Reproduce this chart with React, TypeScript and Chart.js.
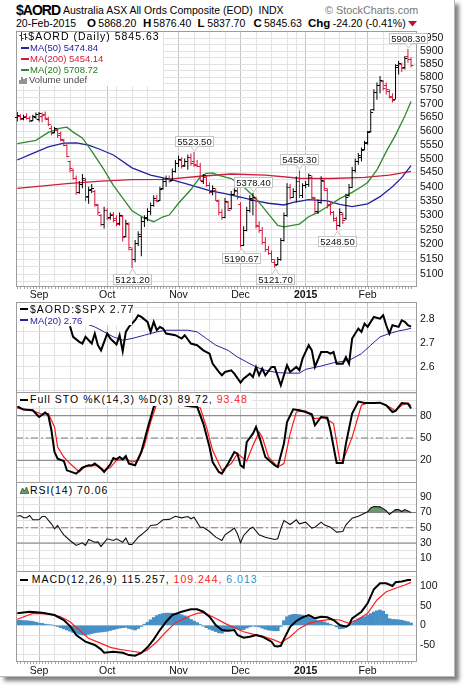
import React, { useEffect, useRef } from 'react';
import { Chart, registerables } from 'chart.js';

Chart.register(...registerables);

// ---------------- categories / tick labels ----------------
const monthIdx = [7, 29, 52, 72, 93, 113];
const monthLabels = ['Sep', 'Oct', 'Nov', 'Dec', '2015', 'Feb'];
const weekIdx = [2, 12, 17, 22, 32, 37, 42, 47, 57, 62, 67, 77, 82, 87, 90, 99, 104, 109, 118, 123];

const priceLabels = [5100, 5150, 5200, 5250, 5300, 5350, 5400, 5450, 5500, 5550, 5600, 5650, 5700, 5750, 5800, 5850, 5900, 5950];
const ratioLabels = [2.6, 2.7, 2.8];
const stoLabels = [20, 50, 80];
const rsiLabels = [10, 30, 50, 70, 90];
const macdLabels = [-50, 0, 50, 100];

// ---------------- price bars (daily OHLC) ----------------
const opens = [
  5650, 5655, 5648, 5655, 5646, 5640, 5650, 5645, 5655, 5662,
  5645, 5612, 5595, 5605, 5592, 5568, 5548, 5490, 5460, 5430,
  5380, 5410, 5425, 5368, 5392, 5385, 5335, 5300, 5270, 5318,
  5295, 5305, 5290, 5275, 5298, 5230, 5270, 5185, 5150, 5205,
  5230, 5280, 5295, 5315, 5335, 5355, 5355, 5395, 5420, 5428,
  5425, 5455, 5485, 5495, 5478, 5490, 5505, 5490, 5478, 5475,
  5420, 5435, 5405, 5385, 5390, 5350, 5310, 5295, 5345, 5325,
  5375, 5385, 5340, 5200, 5250, 5320, 5355, 5360, 5262, 5250,
  5210, 5185, 5170, 5140, 5135, 5150, 5215, 5300, 5400, 5365,
  5385, 5420, 5370, 5405, 5410, 5435, 5360, 5315, 5345, 5420,
  5390, 5340, 5310, 5285, 5265, 5305, 5290, 5370, 5400, 5460,
  5490, 5505, 5535, 5560, 5600, 5680, 5745, 5770, 5785, 5770,
  5750, 5725, 5720, 5845, 5850, 5840, 5880, 5868.2,
];
const highs = [
  5670, 5662, 5660, 5665, 5655, 5660, 5668, 5670, 5668, 5672,
  5652, 5620, 5615, 5612, 5598, 5572, 5552, 5492, 5465, 5440,
  5420, 5445, 5430, 5400, 5410, 5388, 5340, 5305, 5330, 5325,
  5310, 5312, 5300, 5310, 5302, 5285, 5275, 5190, 5215, 5245,
  5295, 5300, 5325, 5345, 5370, 5372, 5400, 5430, 5440, 5440,
  5465, 5495, 5510, 5505, 5500, 5515, 5518, 5523.5, 5495, 5485,
  5445, 5440, 5415, 5405, 5395, 5355, 5320, 5360, 5350, 5385,
  5395, 5400, 5345, 5262, 5330, 5370, 5378.4, 5365, 5280, 5260,
  5225, 5195, 5180, 5150, 5158, 5222, 5310, 5412, 5410, 5395,
  5436, 5458.3, 5412, 5420, 5447, 5440, 5365, 5355, 5437, 5430,
  5395, 5350, 5315, 5295, 5325, 5310, 5375, 5410, 5470, 5500,
  5520, 5540, 5565, 5600, 5680, 5755, 5780, 5805, 5790, 5780,
  5755, 5740, 5850, 5862, 5855, 5881, 5908.3, 5876.4,
];
const lows = [
  5635, 5640, 5640, 5642, 5632, 5636, 5645, 5635, 5632, 5640,
  5618, 5585, 5592, 5575, 5562, 5545, 5505, 5450, 5425, 5372,
  5375, 5395, 5350, 5340, 5378, 5330, 5300, 5262, 5255, 5285,
  5285, 5275, 5262, 5265, 5210, 5225, 5180, 5121.2, 5140, 5195,
  5160, 5260, 5280, 5300, 5330, 5345, 5350, 5390, 5400, 5415,
  5420, 5450, 5470, 5465, 5470, 5460, 5475, 5470, 5470, 5420,
  5410, 5400, 5375, 5370, 5350, 5300, 5285, 5290, 5315, 5320,
  5370, 5355, 5190.67, 5195, 5245, 5310, 5300, 5255, 5240, 5200,
  5175, 5165, 5140, 5121.7, 5130, 5145, 5210, 5295, 5355, 5360,
  5345, 5360, 5360, 5395, 5400, 5355, 5305, 5305, 5340, 5385,
  5325, 5300, 5279, 5248.5, 5260, 5270, 5285, 5365, 5395, 5450,
  5478, 5490, 5530, 5550, 5595, 5675, 5716, 5740, 5750, 5735,
  5720, 5705, 5718, 5811, 5820, 5830, 5855, 5837.7,
];
const closes = [
  5660, 5645, 5652, 5648, 5638, 5655, 5662, 5666, 5660, 5648,
  5625, 5592, 5610, 5585, 5570, 5550, 5510, 5465, 5432, 5380,
  5410, 5430, 5365, 5390, 5395, 5340, 5310, 5270, 5320, 5290,
  5300, 5285, 5270, 5300, 5225, 5275, 5190, 5150, 5205, 5235,
  5280, 5290, 5315, 5335, 5360, 5350, 5392, 5420, 5430, 5420,
  5455, 5485, 5500, 5475, 5492, 5505, 5485, 5480, 5475, 5425,
  5440, 5405, 5380, 5395, 5355, 5310, 5295, 5350, 5320, 5375,
  5390, 5365, 5200, 5250, 5320, 5360, 5365, 5265, 5250, 5210,
  5185, 5170, 5150, 5130, 5150, 5215, 5300, 5400, 5365, 5385,
  5420, 5370, 5405, 5410, 5440, 5365, 5315, 5345, 5425, 5395,
  5335, 5310, 5290, 5265, 5310, 5285, 5365, 5400, 5460, 5490,
  5512, 5530, 5558, 5595, 5670, 5745, 5770, 5790, 5760, 5755,
  5730, 5715, 5840, 5855, 5835, 5875, 5869.83, 5845.63,
];

// moving averages (bar index -> value)
const ma50X = [0, 5, 10, 15, 19, 23, 27, 31, 37, 43, 50, 56, 62, 67, 73, 77, 81, 86, 89, 94, 100, 104, 108, 113, 117, 121, 124, 127];
const ma50Y = [5495, 5519, 5542, 5556, 5557, 5549, 5532, 5513, 5467, 5441, 5424, 5406, 5386, 5376, 5361, 5350, 5342, 5336, 5345, 5355, 5350, 5338, 5330, 5340, 5365, 5400, 5432, 5474.84];
const ma200X = [0, 16, 27, 37, 48, 59, 69, 80, 91, 101, 112, 120, 127];
const ma200Y = [5394, 5411, 5420, 5425, 5426, 5437, 5445, 5441, 5430, 5429, 5433, 5441, 5454.14];
const ma20X = [0, 6, 10, 14, 16, 18, 21, 24, 28, 31, 34, 37, 41, 44, 47, 49, 52, 56, 59, 61, 63, 65, 69, 73, 77, 81, 84, 86, 91, 94, 97, 100, 104, 108, 111, 113, 116, 119, 122, 125, 127];
const ma20Y = [5554, 5566, 5595, 5611, 5614, 5596, 5575, 5527, 5460, 5405, 5360, 5316, 5290, 5278, 5295, 5301, 5342, 5390, 5435, 5447, 5449, 5440, 5429, 5400, 5358, 5305, 5265, 5260, 5270, 5295, 5310, 5330, 5358, 5380, 5400, 5415, 5460, 5525, 5585, 5655, 5708.72];

// price callouts
const calloutIdx = [126, 57, 37, 76, 72, 83, 91, 103];
const calloutVal = [5908.3, 5523.5, 5121.2, 5378.4, 5190.67, 5121.7, 5458.3, 5248.5];
const calloutText = ['5908.30', '5523.50', '5121.20', '5378.40', '5190.67', '5121.70', '5458.30', '5248.50'];
const calloutAbove = [true, true, false, true, false, false, true, false];

// $AORD:$SPX ratio and its MA(20)
const ratioX = [17, 18, 20, 21, 22, 24, 25, 26, 27, 29, 30, 32, 33, 34, 35, 36, 38, 39, 40, 42, 43, 44, 45, 46, 47, 48, 51, 53, 54, 56, 58, 60, 62, 63, 65, 66, 67, 69, 70, 72, 73, 75, 76, 77, 78, 79, 80, 82, 83, 85, 87, 88, 90, 91, 92, 94, 95, 96, 98, 100, 101, 102, 103, 105, 106, 107, 108, 110, 111, 112, 113, 115, 117, 118, 119, 120, 121, 123, 124, 125, 126, 127];
const ratioY = [2.772, 2.727, 2.706, 2.699, 2.727, 2.699, 2.741, 2.692, 2.67, 2.741, 2.72, 2.695, 2.734, 2.666, 2.748, 2.769, 2.797, 2.818, 2.811, 2.79, 2.748, 2.79, 2.755, 2.769, 2.762, 2.741, 2.734, 2.72, 2.734, 2.699, 2.692, 2.67, 2.656, 2.614, 2.579, 2.565, 2.579, 2.586, 2.572, 2.534, 2.551, 2.572, 2.558, 2.6, 2.565, 2.593, 2.565, 2.6, 2.6, 2.523, 2.607, 2.579, 2.6, 2.586, 2.635, 2.692, 2.67, 2.6, 2.663, 2.663, 2.656, 2.663, 2.614, 2.614, 2.642, 2.614, 2.72, 2.762, 2.748, 2.783, 2.769, 2.811, 2.804, 2.818, 2.776, 2.741, 2.776, 2.769, 2.797, 2.79, 2.776, 2.77];
const rmaX = [22, 25, 28, 31, 34, 37, 41, 45, 48, 55, 58, 61, 64, 68, 71, 74, 77, 80, 84, 88, 91, 93, 98, 102, 107, 111, 114, 117, 120, 123, 125, 127];
const rmaY = [2.783, 2.769, 2.748, 2.727, 2.713, 2.72, 2.734, 2.748, 2.755, 2.755, 2.748, 2.72, 2.692, 2.67, 2.642, 2.621, 2.6, 2.586, 2.576, 2.574, 2.574, 2.59, 2.604, 2.618, 2.628, 2.656, 2.692, 2.727, 2.741, 2.752, 2.757, 2.763];

// Full stochastics
const stoKX = [0, 2, 5, 7, 9, 10, 11, 12, 13, 15, 16, 19, 21, 23, 24, 25, 27, 28, 30, 31, 32, 33, 34, 35, 36, 38, 40, 42, 44, 45, 47, 50, 52, 54, 56, 58, 60, 62, 63, 65, 66, 68, 70, 71, 72, 73, 74, 76, 77, 78, 80, 83, 84, 86, 87, 89, 91, 93, 95, 96, 98, 100, 101, 103, 105, 106, 108, 110, 112, 115, 117, 119, 121, 122, 124, 126, 127];
const stoKY = [92.6, 88.2, 87.3, 78.3, 84.2, 80.5, 60.4, 31.2, 22.3, 19.1, 6.5, 2.1, 10.2, 13.3, 12.9, 15.6, 8.8, 4.3, 14.6, 23.1, 21.3, 24.4, 21.3, 25.8, 15.6, 13.3, 31.2, 62.6, 91.7, 98, 99, 97, 96, 94, 92.6, 92, 69.4, 37.9, 17.7, 4.3, 2.1, 15.6, 31.2, 29, 13.3, 10.2, 44.6, 55.9, 64.8, 52.6, 24.4, 13.3, 11.1, 42.5, 71.5, 88.6, 87.3, 85, 81.9, 67.1, 78.3, 77.4, 60.4, 16.4, 16.4, 42.5, 82.8, 99, 97.1, 97.1, 97.5, 94, 85, 86.4, 97.1, 96.2, 89.72];
const stoDX = [0, 5, 8, 10, 12, 13, 15, 17, 20, 22, 26, 28, 30, 32, 35, 37, 39, 41, 43, 45, 48, 51, 55, 59, 61, 63, 66, 69, 71, 74, 76, 78, 79, 81, 84, 86, 88, 90, 93, 96, 99, 102, 104, 105, 108, 111, 113, 117, 120, 122, 124, 126, 127];
const stoDY = [90.2, 86.4, 82, 83, 64.8, 37.9, 24.4, 15.6, 4.3, 12, 13.3, 6.5, 10.2, 20, 22.2, 17.7, 20, 40, 71.5, 96, 98, 97, 92.6, 90.7, 64.8, 33.5, 6.5, 15.6, 29, 19, 40, 57.9, 51.2, 24.4, 11, 15.6, 55.9, 85, 86.4, 76, 77.4, 69.4, 20, 19.1, 51.2, 94, 97.1, 97.1, 92, 86.4, 94, 97.1, 93.48];

// RSI(14)
const rsiX = [0, 1, 2, 3, 4, 5, 7, 8, 9, 11, 12, 13, 14, 15, 17, 19, 21, 22, 23, 25, 26, 27, 29, 31, 32, 34, 35, 36, 37, 39, 40, 42, 43, 45, 47, 49, 51, 53, 55, 56, 57, 59, 60, 62, 64, 66, 67, 69, 70, 71, 72, 73, 75, 76, 78, 80, 83, 84, 85, 86, 88, 90, 91, 93, 95, 96, 98, 99, 101, 103, 105, 106, 108, 110, 113, 114, 115, 117, 119, 120, 122, 123, 124, 125, 126, 127];
const rsiY = [65.2, 66.1, 63.1, 63.1, 66.1, 60.5, 60.5, 64.8, 64.8, 55.2, 48.7, 53, 46.5, 40.8, 33.3, 26.8, 30.3, 26.8, 34.7, 31.1, 31.5, 25.5, 35.6, 33.3, 35.6, 31.1, 36.4, 28.1, 28.1, 37.7, 40.8, 47.8, 53, 53.9, 60.5, 61, 65.2, 63.1, 64.8, 61.8, 63.9, 50.8, 50.8, 45.1, 37.7, 33.3, 40.8, 46.5, 49.6, 42.1, 30.3, 39.9, 48.7, 50.8, 40.8, 37.7, 34.7, 35.6, 48.7, 59.6, 54.3, 60.5, 55.2, 57.4, 49.6, 50.8, 57.4, 53.9, 50.8, 44.3, 45.1, 53.9, 62.6, 65.2, 71, 76, 78, 77.5, 72.6, 67.4, 73.9, 73.9, 71.3, 73.9, 72.2, 70.06];

// MACD(12,26,9)
const macdX = [0, 4, 8, 12, 15, 17, 19, 22, 25, 27, 28, 31, 34, 36, 38, 40, 42, 44, 46, 48, 50, 53, 56, 58, 60, 62, 64, 66, 68, 70, 71, 73, 75, 77, 79, 82, 83, 84, 85, 86, 88, 90, 92, 94, 96, 98, 100, 102, 104, 106, 107, 108, 111, 113, 115, 117, 119, 121, 122, 124, 126, 127];
const macdY = [30.5, 34.6, 32, 26.2, 13.5, -1.8, -24.7, -41.7, -50, -61, -69.6, -67, -69.6, -75.6, -77.3, -70.3, -56, -35.6, -12, 9.2, 26.2, 34.6, 40.7, 40.7, 34.6, 21.9, 0.8, -12, -13.5, -12, -24.7, -31.5, -29, -24.7, -29, -41.7, -52.7, -54, -52, -35, -4, 11, 20.3, 26.2, 17.8, 21.9, 20.3, 13.5, 0.8, -3.6, 0.8, 17.8, 34.6, 56, 91.6, 106.9, 106.9, 100, 109.4, 111.2, 115.3, 115.257];
const sigX = [0, 5, 10, 14, 17, 20, 23, 27, 30, 33, 36, 40, 42, 45, 48, 51, 55, 58, 60, 63, 67, 70, 73, 76, 79, 83, 85, 88, 91, 94, 98, 101, 104, 107, 110, 113, 116, 119, 122, 125, 127];
const sigY = [15.3, 30.5, 28.8, 21.9, 9.2, -12, -33.1, -45.8, -56, -61, -64.6, -69.6, -62.8, -41.7, -16.3, 6.7, 21.9, 30.5, 32, 21.9, 5, -6, -16.3, -22.2, -27.3, -37.5, -44.2, -29, -7.8, 5, 11.8, 15.3, 13.5, 5, 15.3, 30.5, 64.4, 85.5, 94.1, 102.5, 109.244];
const histY = [
  13, 13, 12, 12, 11, 10, 8, 6, 5, 3,
  2, 1, -1, -3, -6, -9, -12, -15, -18, -21,
  -23, -24, -25, -23, -21, -19, -18, -17, -16, -15,
  -13, -11, -9, -7, -6, -5, -8, -10, -12, -8,
  -3, 3, 8, 14, 20, 25, 28, 30, 31, 31,
  31, 30, 29, 27, 24, 20, 15, 11, 7, 2,
  -2, -6, -10, -13, -16, -19, -20, -16, -12, -9,
  -8, -9, -12, -11, -7, -4, -2, -3, -4, -7,
  -10, -12, -13, -14, -14, -3, 12, 22, 26, 28,
  28, 27, 26, 24, 22, 18, 14, 12, 11, 9,
  6, 3, 0, -4, -9, -8, -4, 1, 6, 12,
  17, 20, 22, 26, 30, 34, 37, 39, 36, 28,
  17, 15, 15, 14, 13, 11, 9, 6.013,
];

// ---------------- layout / style constants ----------------
const FONT = '"Liberation Sans", Arial, Helvetica, sans-serif';
const X_MIN = -0.42;
const X_MAX = 128.6;
const PLOT_L = 16;
const PLOT_W = 400;
const AXW = 40;
const GRID_MINOR = '#e2e2e2';
const GRID_MAJOR = '#c4c4c4';
const FRAME = '#9c9c9c';
const UP = '#000000';
const DOWN = '#d8143a';
const NAVY = '#2323a0';
const CRIMSON = '#d01c3c';
const GREEN = '#2f8a2f';

Chart.defaults.font.family = FONT;

const steps = (a: number, b: number, s: number) => {
  const r: number[] = [];
  for (let v = a; v <= b + 1e-9; v += s) r.push(Math.round(v * 1000) / 1000);
  return r;
};
const pts = (xs: number[], ys: number[]) => xs.map((x, k) => ({ x, y: ys[k] }));
const barColors = closes.map((c, k) => (k === 0 || c >= closes[k - 1] ? UP : DOWN));

function line(xs: number[], ys: number[], color: string, width: number, order: number, extra: any = {}) {
  return { type: 'line', data: pts(xs, ys), borderColor: color, borderWidth: width, pointRadius: 0, tension: 0, fill: false, order, ...extra };
}
function refLine(v: number, dash: number[] = []) {
  return line([X_MIN, X_MAX], [v, v], '#7a7a7a', 1, 20, { borderDash: dash });
}

function xScale(bottomArea: number, showMonths: boolean, labelPad: number) {
  return {
    type: 'linear', position: 'bottom', min: X_MIN, max: X_MAX, bounds: 'data', offset: false,
    afterBuildTicks: (s: any) => {
      const t = weekIdx.map((v) => ({ value: v, major: false })).concat(monthIdx.map((v) => ({ value: v, major: true })));
      t.sort((a, b) => a.value - b.value);
      s.ticks = t;
    },
    afterFit: (s: any) => { s.height = bottomArea; s.paddingLeft = 0; s.paddingRight = 0; s.paddingTop = 0; s.paddingBottom = 0; },
    grid: { offset: false, drawTicks: false, lineWidth: 1, color: (c: any) => (c.tick && c.tick.major ? GRID_MAJOR : GRID_MINOR) },
    border: { display: false },
    ticks: {
      display: showMonths, autoSkip: false, maxRotation: 0, minRotation: 0, padding: labelPad, color: '#111',
      font: (c: any) => {
        const k = c.tick ? monthIdx.indexOf(c.tick.value) : -1;
        return { family: FONT, size: 10.5, weight: k >= 0 && /^\d{4}$/.test(monthLabels[k]) ? 'bold' : 'normal' };
      },
      callback: (v: number) => { const k = monthIdx.indexOf(v); return k >= 0 ? monthLabels[k] : ''; },
    },
  };
}

function yScale(type: string, min: number, max: number, grid: number[], labels: number[], fmt: (v: number) => string) {
  return {
    type, position: 'right', min, max, bounds: 'data', beginAtZero: false,
    afterBuildTicks: (s: any) => { s.ticks = grid.map((v) => ({ value: v })); },
    afterFit: (s: any) => { s.width = AXW; s.paddingTop = 0; s.paddingBottom = 0; s.paddingLeft = 0; s.paddingRight = 0; },
    grid: { drawTicks: false, color: GRID_MINOR, lineWidth: 1 },
    border: { display: false },
    ticks: {
      autoSkip: false, padding: 4, color: '#111', font: { family: FONT, size: 10.5 },
      callback: (v: number) => (labels.some((l) => Math.abs(l - v) < 1e-6) ? fmt(v) : ''),
    },
  };
}

const framePlugin = (tickMarks: boolean) => ({
  id: 'frame',
  afterDatasetsDraw(chart: any) {
    const { ctx, chartArea: a } = chart;
    ctx.save();
    ctx.strokeStyle = FRAME;
    ctx.lineWidth = 1;
    ctx.strokeRect(a.left + 0.5, a.top + 0.5, a.right - a.left, a.bottom - a.top);
    if (tickMarks) {
      const xs = chart.scales.x;
      ctx.strokeStyle = '#a8a8a8';
      ctx.beginPath();
      closes.forEach((_c, k) => {
        const px = Math.round(xs.getPixelForValue(k)) + 0.5;
        ctx.moveTo(px, a.bottom + 1);
        ctx.lineTo(px, a.bottom + 3);
      });
      ctx.stroke();
    }
    ctx.restore();
  },
});

const ohlcTicks = {
  id: 'ohlcTicks',
  afterDatasetsDraw(chart: any) {
    const meta = chart.getDatasetMeta(0);
    const ys = chart.scales.y;
    const ctx = chart.ctx;
    ctx.save();
    ctx.lineWidth = 1;
    meta.data.forEach((el: any, k: number) => {
      const x = el.x;
      const yo = Math.round(ys.getPixelForValue(opens[k])) + 0.5;
      const yc = Math.round(ys.getPixelForValue(closes[k])) + 0.5;
      ctx.strokeStyle = barColors[k];
      ctx.beginPath();
      ctx.moveTo(x - 2.4, yo); ctx.lineTo(x, yo);
      ctx.moveTo(x, yc); ctx.lineTo(x + 2.4, yc);
      ctx.stroke();
    });
    ctx.restore();
  },
};

const callouts = {
  id: 'callouts',
  afterDraw(chart: any) {
    const { ctx } = chart;
    const xs = chart.scales.x, ys = chart.scales.y;
    ctx.save();
    ctx.font = `9.5px ${FONT}`;
    ctx.textAlign = 'center';
    ctx.textBaseline = 'middle';
    ctx.lineWidth = 1;
    calloutIdx.forEach((idx, k) => {
      const px = xs.getPixelForValue(idx);
      const py = ys.getPixelForValue(calloutVal[k]);
      const tw = ctx.measureText(calloutText[k]).width;
      const bw = Math.round(tw + 4);
      const bh = 10;
      const bx = Math.round(px - bw / 2) + 0.5;
      const above = calloutAbove[k];
      const by = above ? Math.round(py - 6 - bh) + 0.5 : Math.round(py + 6) + 0.5;
      const edge = above ? by + bh : by;
      const tip = above ? py - 1 : py + 1;
      ctx.fillStyle = '#fff';
      ctx.strokeStyle = '#c4c4c4';
      ctx.fillRect(bx, by, bw, bh);
      ctx.strokeRect(bx, by, bw, bh);
      const cx = Math.round(px) + 0.5;
      ctx.beginPath();
      ctx.moveTo(cx - 3.5, edge); ctx.lineTo(cx, tip); ctx.lineTo(cx + 3.5, edge);
      ctx.closePath();
      ctx.fill();
      ctx.beginPath();
      ctx.moveTo(cx - 3.5, edge); ctx.lineTo(cx, tip); ctx.lineTo(cx + 3.5, edge);
      ctx.stroke();
      ctx.fillStyle = '#111';
      ctx.fillText(calloutText[k], bx + bw / 2, by + bh / 2 + 0.5);
    });
    ctx.restore();
  },
};

function baseOptions(y: any, bottomArea: number, showMonths: boolean, labelPad: number) {
  return {
    responsive: false,
    maintainAspectRatio: false,
    animation: false,
    devicePixelRatio: 1,
    events: [],
    layout: { padding: { left: 1, top: 1, right: 0, bottom: 0 }, autoPadding: false },
    plugins: { legend: { display: false }, tooltip: { enabled: false }, title: { display: false } },
    scales: { x: xScale(bottomArea, showMonths, labelPad), y },
  };
}

// ---------------- panel builders ----------------
const buildMain = (ba: number, lp: number) => ({
  type: 'line',
  data: {
    datasets: [
      {
        type: 'bar', data: highs.map((h, k) => ({ x: k, y: [lows[k], h] })),
        backgroundColor: barColors, barThickness: 1, inflateAmount: 0, borderWidth: 0, order: 0,
      },
      line(ma20X, ma20Y, GREEN, 1.3, 1),
      line(ma50X, ma50Y, NAVY, 1.3, 2),
      line(ma200X, ma200Y, CRIMSON, 1.3, 3),
    ],
  },
  options: baseOptions(yScale('logarithmic', 5061, 5978, steps(5075, 5975, 25), priceLabels, (v) => String(v)), ba, true, lp),
  plugins: [framePlugin(true), ohlcTicks, callouts],
});

const buildRatio = (ba: number, lp: number) => ({
  type: 'line',
  data: { datasets: [line(ratioX, ratioY, '#000', 2, 0), line(rmaX, rmaY, NAVY, 1, 1)] },
  options: baseOptions(yScale('linear', 2.4945, 2.874, steps(2.5, 2.85, 0.05), ratioLabels, (v) => v.toFixed(1)), ba, false, lp),
  plugins: [framePlugin(false)],
});

const buildSto = (ba: number, lp: number) => ({
  type: 'line',
  data: {
    datasets: [
      line(stoKX, stoKY, '#000', 2, 0),
      line(stoDX, stoDY, '#ff1a1a', 1.2, 1),
      refLine(80), refLine(20), refLine(50, [7, 3, 2, 3]),
    ],
  },
  options: baseOptions(yScale('linear', -9.2, 111.9, steps(0, 110, 10), stoLabels, (v) => String(v)), ba, false, lp),
  plugins: [framePlugin(false)],
});

const buildRsi = (ba: number, lp: number) => ({
  type: 'line',
  data: {
    datasets: [
      line(rsiX, rsiY, '#111', 1.1, 0, { fill: { target: { value: 70 }, above: '#6b976b', below: 'rgba(0,0,0,0)' } }),
      refLine(70), refLine(30), refLine(50, [7, 3, 2, 3]),
    ],
  },
  options: baseOptions(yScale('linear', -6.7, 110.1, steps(0, 110, 10), rsiLabels, (v) => String(v)), ba, false, lp),
  plugins: [framePlugin(false)],
});

const buildMacd = (ba: number, lp: number) => ({
  type: 'line',
  data: {
    datasets: [
      line(macdX, macdY, '#000', 2, 0),
      line(sigX, sigY, '#ff2020', 1.2, 1),
      {
        type: 'bar', data: histY.map((v, k) => ({ x: k, y: v })),
        backgroundColor: '#4690c7', borderWidth: 0,
        barPercentage: 1, categoryPercentage: 1, inflateAmount: 0.3, order: 5,
      },
    ],
  },
  options: baseOptions(yScale('linear', -90.7, 138.1, steps(-75, 125, 25), macdLabels, (v) => String(v)), ba, true, lp),
  plugins: [framePlugin(true)],
});

function Panel({ top, bottom, bottomArea, labelPad, build }: any) {
  const ref = useRef<HTMLCanvasElement>(null);
  const w = PLOT_W + 1 + AXW;
  const h = bottom - top + 1 + bottomArea;
  useEffect(() => {
    const chart = new Chart(ref.current as HTMLCanvasElement, build(bottomArea, labelPad) as any);
    return () => chart.destroy();
  }, []);
  return (
    <canvas ref={ref} width={w} height={h}
      style={{ position: 'absolute', left: PLOT_L - 1, top: top - 1, width: w, height: h }} />
  );
}

// ---------------- text helpers ----------------
function T({ x, y, size = 10.5, ls = 0, color = '#000', bold = false, lh = 11, children }: any) {
  return (
    <span style={{
      position: 'absolute', left: x, top: y, fontSize: size, letterSpacing: ls, color,
      fontWeight: bold ? 'bold' : 'normal', lineHeight: `${lh}px`, whiteSpace: 'pre', fontFamily: FONT,
    }}>{children}</span>
  );
}
const Box = ({ x, y, w, h }: any) => (
  <div style={{ position: 'absolute', left: x, top: y, width: w, height: h, background: '#fff' }} />
);
const Dash = ({ x, y, color, th = 2 }: any) => (
  <div style={{ position: 'absolute', left: x, top: y - th / 2, width: 8, height: th, background: color }} />
);

export default function App() {
  return (
    <div style={{ position: 'absolute', left: 0, top: 0, width: 464, height: 685, background: '#fff', overflow: 'hidden' }}>
      <div style={{
        position: 'absolute', left: 0, top: 0, width: 454, height: 676, background: '#fff',
        borderRight: '1px solid #b8b8b8', borderBottom: '1px solid #b8b8b8', boxShadow: '4px 4px 4px rgba(0,0,0,0.5)',
      }} />

      {/* header */}
      <T x={16} y={3} size={14} bold ls={-1} lh={14}>$AORD</T>
      <T x={63} y={5}>{'Australia ASX All Ords Composite (EOD)  INDX'}</T>
      <T x={325} y={5} size={10.8} color="#777">{'\u00A9 StockCharts.com'}</T>
      <T x={16} y={18}>20-Feb-2015</T>
      <T x={87} y={17.5} size={11.5} bold>O</T>
      <T x={98.3} y={18}>5868.20</T>
      <T x={143} y={17.5} size={11.5} bold>H</T>
      <T x={153.3} y={18}>5876.40</T>
      <T x={197.5} y={17.5} size={11.5} bold>L</T>
      <T x={207.3} y={18}>5837.70</T>
      <T x={253.5} y={17.5} size={11.5} bold>C</T>
      <T x={264} y={18}>5845.63</T>
      <T x={308} y={17.5} size={11.5} bold>Chg</T>
      <T x={332.7} y={18}>-24.20 (-0.41%)</T>
      <svg style={{ position: 'absolute', left: 408, top: 21 }} width={9} height={6}>
        <polygon points="0,0 9,0 4.5,5.5" fill="#c8102e" />
      </svg>

      <Panel top={31} bottom={286} bottomArea={18} labelPad={3} build={buildMain} />
      <Panel top={302} bottom={392} bottomArea={1} labelPad={0} build={buildRatio} />
      <Panel top={392} bottom={482} bottomArea={1} labelPad={0} build={buildSto} />
      <Panel top={482} bottom={571} bottomArea={1} labelPad={0} build={buildRsi} />
      <Panel top={571} bottom={661} bottomArea={20} labelPad={4} build={buildMacd} />

      {/* main legend */}
      <Box x={17} y={32} w={146} h={54} />
      <svg style={{ position: 'absolute', left: 19, top: 32 }} width={9} height={9}>
        <path d="M2.5 0v9 M0.5 3.5h2 M2.5 6.5h2 M6.5 1v7 M4.5 2.5h2 M6.5 5.5h2" stroke="#333" strokeWidth={1} fill="none" />
      </svg>
      <T x={28.3} y={31} ls={1}>$AORD (Daily) 5845.63</T>
      <Dash x={20.5} y={47.5} color={NAVY} />
      <T x={30} y={42.1} size={9.5} color={NAVY}>MA(50) 5474.84</T>
      <Dash x={20.5} y={58.5} color={CRIMSON} />
      <T x={30} y={53.1} size={9.5} color={CRIMSON}>MA(200) 5454.14</T>
      <Dash x={20.5} y={69.8} color={GREEN} />
      <T x={30} y={64.4} size={9.5} color="#1f7a1f">MA(20) 5708.72</T>
      <svg style={{ position: 'absolute', left: 19, top: 75 }} width={9} height={9}>
        <path d="M1 9V5 M3 9V2 M5 9V4 M7 9V3" stroke="#666" strokeWidth={1.4} fill="none" />
      </svg>
      <T x={29} y={74.3} size={9.5} color="#4a4a4a">Volume undef</T>

      {/* ratio legend */}
      <Box x={17} y={303} w={115} h={22} />
      <Dash x={20} y={309} color="#000" />
      <T x={30} y={303.6} ls={1}>$AORD:$SPX 2.77</T>
      <Dash x={20} y={320} color={NAVY} th={1.5} />
      <T x={30} y={314.6} size={9.5} color={NAVY}>MA(20) 2.76</T>

      {/* sto legend */}
      <Box x={17} y={393} w={235} h={13} />
      <Dash x={20} y={399.7} color="#000" />
      <T x={30} y={394.3} ls={1}>Full STO %K(14,3) %D(3) 89.72, <span style={{ color: '#ff1a1a' }}>93.48</span></T>

      {/* rsi legend */}
      <Box x={17} y={483} w={95} h={13} />
      <svg style={{ position: 'absolute', left: 20, top: 486 }} width={9} height={8}>
        <polygon points="0,8 2.5,2 4.5,5 6.5,1 9,8" fill="#6b976b" stroke="#2f5a2f" strokeWidth={0.8} />
      </svg>
      <T x={30} y={484.6} ls={1}>RSI(14) 70.06</T>

      {/* macd legend */}
      <Box x={17} y={572} w={245} h={13} />
      <Dash x={20} y={579.7} color="#000" />
      <T x={31.7} y={574.3} ls={1}>
        MACD(12,26,9) 115.257, <span style={{ color: '#ff1a1a' }}>109.244, </span><span style={{ color: '#2f8fc8' }}>6.013</span>
      </T>
    </div>
  );
}
